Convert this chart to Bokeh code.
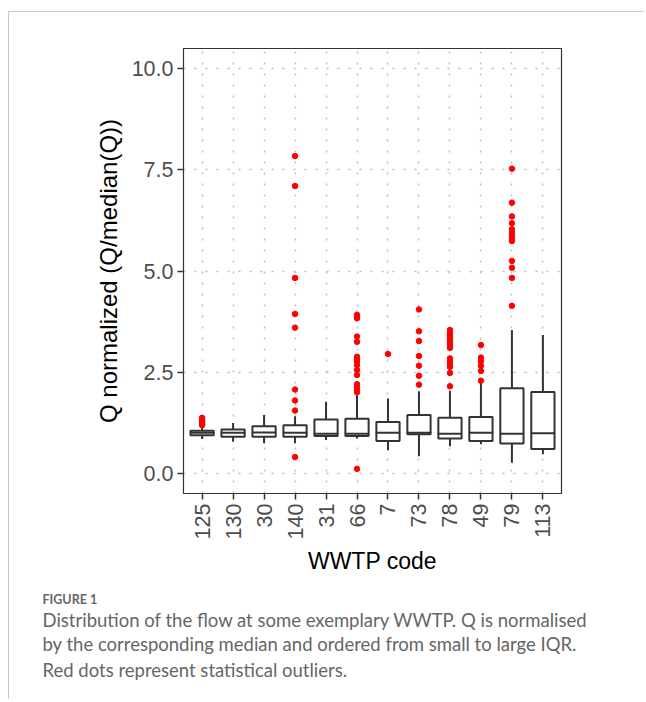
import math
from bokeh.plotting import figure
from bokeh.models import FixedTicker, PrintfTickFormatter, ColumnDataSource, Title
from bokeh.embed import file_html
from bokeh.resources import INLINE

# ---------------- data ----------------
codes = ["125", "130", "30", "140", "31", "66", "7", "73", "78", "49", "79", "113"]
q1 = [0.94, 0.90, 0.90, 0.90, 0.92, 0.92, 0.80, 0.965, 0.86, 0.80, 0.735, 0.60]
med = [1.00, 1.00, 1.01, 1.00, 0.98, 0.98, 1.00, 1.00, 0.98, 1.00, 0.98, 0.99]
q3 = [1.05, 1.08, 1.16, 1.19, 1.33, 1.35, 1.27, 1.44, 1.37, 1.39, 2.10, 2.01]
lower = [0.85, 0.78, 0.74, 0.74, 0.82, 0.86, 0.57, 0.42, 0.67, 0.72, 0.26, 0.47]
upper = [1.15, 1.24, 1.44, 1.41, 1.77, 1.93, 1.85, 2.03, 2.04, 2.24, 3.54, 3.42]
outliers = {
    "125": [1.19, 1.22, 1.25, 1.28, 1.31, 1.34, 1.37],
    "130": [],
    "30": [],
    "140": [7.84, 7.10, 4.83, 3.94, 3.60, 2.07, 1.80, 1.55, 0.40],
    "31": [],
    "66": [3.92, 3.87, 3.83, 3.38, 3.25, 2.88, 2.82, 2.76, 2.67, 2.55, 2.43,
           2.20, 2.12, 2.05, 2.00, 0.11],
    "7": [2.95],
    "73": [4.05, 3.51, 3.27, 2.90, 2.66, 2.41, 2.19],
    "78": [3.54, 3.48, 3.42, 3.36, 3.30, 3.24, 3.17, 3.10, 2.84, 2.77, 2.70,
           2.63, 2.48, 2.15],
    "49": [3.17, 2.86, 2.77, 2.66, 2.53, 2.29],
    "79": [7.53, 6.69, 6.35, 6.18, 6.03, 5.95, 5.87, 5.80, 5.74, 5.25, 5.08,
           4.83, 4.14],
    "113": [],
}
y_ticks = [0.0, 2.5, 5.0, 7.5, 10.0]
caption_head = "FIGURE 1"
caption_lines = [
    "Distribution of the flow at some exemplary WWTP. Q is normalised",
    "by the corresponding median and ordered from small to large IQR.",
    "Red dots represent statistical outliers.",
]

# ---------------- figure ----------------
W, H = 636, 688
FL, FT, FR, FB = 174, 36, 552, 481  # frame edges in canvas px

p = figure(width=W, height=H, output_backend="svg", toolbar_location=None,
           x_range=(0.4, 12.6), y_range=(-0.5, 10.5),
           min_border_left=FL, min_border_right=W - FR,
           min_border_top=FT, min_border_bottom=H - FB,
           background_fill_color="white", border_fill_color="white",
           styles={"margin-left": "8px", "margin-top": "11px",
                   "border-top": "1px solid #c8c8c8", "border-left": "1px solid #c8c8c8"})

xs = list(range(1, len(codes) + 1))
src = ColumnDataSource(dict(x=xs, q1=q1, med=med, q3=q3, lo=lower, hi=upper))

box_col = "#333333"
lw = 2.0
p.segment(x0="x", y0="q3", x1="x", y1="hi", source=src, line_color=box_col, line_width=lw)
p.segment(x0="x", y0="lo", x1="x", y1="q1", source=src, line_color=box_col, line_width=lw)
p.vbar(x="x", width=0.75, bottom="q1", top="q3", source=src, fill_color="white",
       line_color=box_col, line_width=lw)
p.rect(x="x", y="med", width=0.75, height=0.0001, source=src, fill_alpha=0,
       line_color=box_col, line_width=lw)

ox, oy = [], []
for i, c in enumerate(codes):
    for v in outliers[c]:
        ox.append(i + 1)
        oy.append(v)
p.scatter(ox, oy, size=5.5, color="red", line_color="red")

# grid
p.xgrid.ticker = FixedTicker(ticks=xs)
p.ygrid.ticker = FixedTicker(ticks=y_ticks)
for g in (p.xgrid, p.ygrid):
    g.grid_line_color = "#bdbdbd"
    g.grid_line_dash = "2 9"
    g.grid_line_width = 1.5
    g.level = "underlay"

p.outline_line_color = "#333333"
p.outline_line_width = 1.2
p.outline_line_alpha = 1

p.xaxis.ticker = FixedTicker(ticks=xs)
p.xaxis.major_label_overrides = {x: c for x, c in zip(xs, codes)}
p.xaxis.major_label_orientation = math.pi / 2
p.yaxis.ticker = FixedTicker(ticks=y_ticks)
p.yaxis.formatter = PrintfTickFormatter(format="%.1f")
for ax in (p.xaxis[0], p.yaxis[0]):
    ax.axis_line_color = None
    ax.major_tick_line_color = "#333333"
    ax.major_tick_line_width = 1.5
    ax.major_tick_out = 6
    ax.major_tick_in = 0
    ax.minor_tick_line_color = None
    ax.major_label_text_font = "Liberation Sans"
    ax.major_label_text_font_size = "21.5px"
    ax.major_label_text_color = "#4d4d4d"
    ax.axis_label_text_font = "Liberation Sans"
    ax.axis_label_text_font_style = "normal"
    ax.axis_label_text_color = "black"
    ax.major_label_standoff = 4
p.xaxis.axis_label = "WWTP code"
p.yaxis.axis_label = "Q normalized (Q/median(Q))"
p.xaxis.axis_label_text_font_size = "23px"
p.yaxis.axis_label_text_font_size = "24px"
p.xaxis.axis_label_standoff = 6
p.yaxis.axis_label_standoff = 7

# caption as titles stacked below the x axis
CX = 42 - 9  # caption left edge, canvas px
p.add_layout(Title(text=caption_head, align="left", offset=CX - FL, standoff=24,
                   text_font="Lato", text_font_size="12.5px", text_font_style="bold",
                   text_color="#666666"), "below")
for line, sd in zip(caption_lines, [-24, 24, -20]):
    p.add_layout(Title(text=line, align="left", offset=CX - FL, standoff=sd,
                       text_font="Lato", text_font_size="18.5px",
                       text_font_style="normal", text_color="#666666"), "below")

open("out.html", "w").write(file_html(p, INLINE))
